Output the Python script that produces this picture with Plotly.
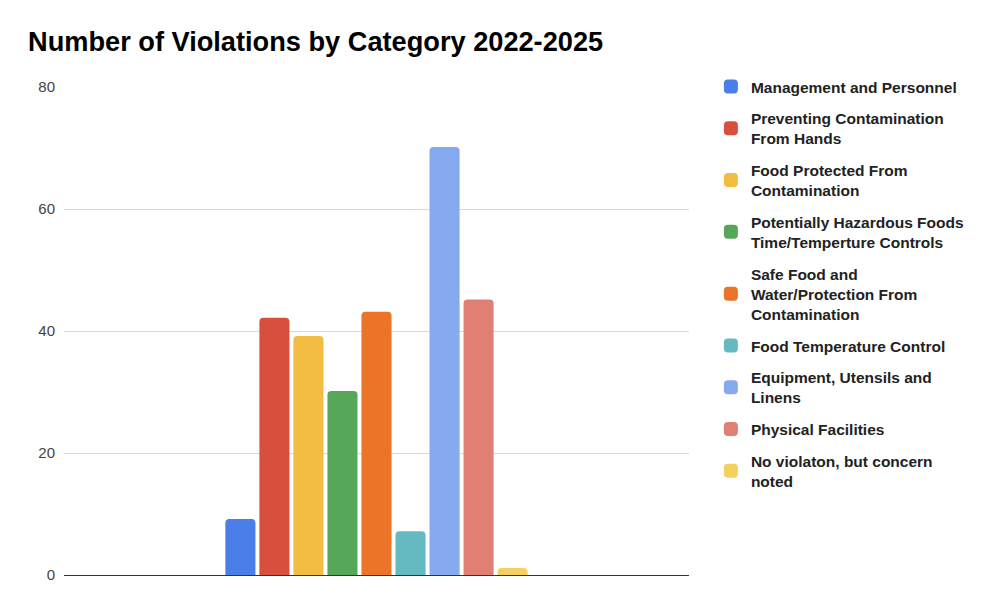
import plotly.graph_objects as go

categories = [
    "Management and Personnel",
    "Preventing Contamination<br>From Hands",
    "Food Protected From<br>Contamination",
    "Potentially Hazardous Foods<br>Time/Temperture Controls",
    "Safe Food and<br>Water/Protection From<br>Contamination",
    "Food Temperature Control",
    "Equipment, Utensils and<br>Linens",
    "Physical Facilities",
    "No violaton, but concern<br>noted",
]
values = [9, 42, 39, 30, 43, 7, 70, 45, 1]
colors = ["#4a7fe9", "#d94f3e", "#f2bd42", "#57a75b", "#ec7429",
          "#65bac2", "#86a9ef", "#e07f74", "#f4d05e"]
y_ticks = [0, 20, 40, 60, 80]

fig = go.Figure()
for i, (name, v, c) in enumerate(zip(categories, values, colors)):
    fig.add_trace(go.Bar(
        x=[""], y=[v], name=name, marker_color=c,
        legendgroup=f"g{i}", marker_line_width=2, marker_line_color=c,
    ))

fig.update_layout(
    width=1000, height=611,
    paper_bgcolor="white", plot_bgcolor="white",
    margin=dict(l=56, r=319, t=79, b=44),
    title=dict(text="<b>Number of Violations by Category 2022-2025</b>",
               font=dict(family="Liberation Sans, Arial", size=27.2, color="#000"),
               x=0.02, xanchor="left", y=0.945, yanchor="middle"),
    barmode="group", bargap=0.51, bargroupgap=0.175, barcornerradius=3,
    legend=dict(x=1.035, xanchor="left", y=1.035, yanchor="top",
                font=dict(family="Liberation Sans, Arial", size=15.5, color="#222",
                          weight="bold"),
                tracegroupgap=8.5, itemwidth=30, maxheight=600),
    showlegend=True,
)
fig.update_yaxes(range=[0, 80], tickvals=y_ticks, showgrid=True, gridcolor="#d9d9d9",
                 zeroline=False, showline=False,
                 tickfont=dict(family="Liberation Sans, Arial", size=15, color="#444"),
                 ticklabelstandoff=8)
fig.update_xaxes(showticklabels=False, showgrid=False, showline=True,
                 linecolor="#333", linewidth=1.2, ticks="")
fig.write_html("out.html")
